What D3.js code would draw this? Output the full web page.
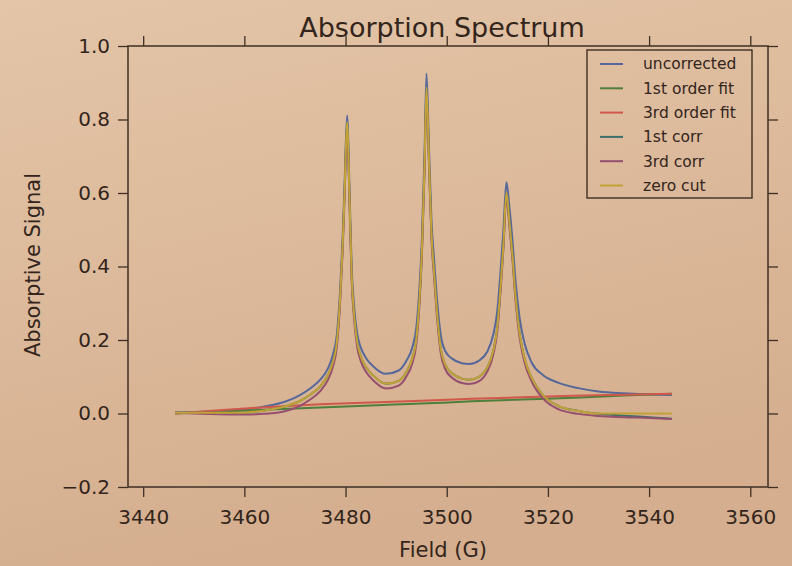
<!DOCTYPE html>
<html>
<head>
<meta charset="utf-8">
<script src="https://cdn.jsdelivr.net/npm/d3@7"></script>
<style>
  html, body { margin: 0; padding: 0; }
  body { width: 792px; height: 566px; overflow: hidden; background: #dcba9b; }
  svg { display: block; }
  text { font-family: "DejaVu Sans", sans-serif; fill: #33251b; }
</style>
</head>
<body>
<svg id="chart" width="792" height="566"></svg>
<script>
// ---------- data ----------
const field = [3446.3, 3450, 3455, 3460, 3464, 3468, 3471, 3473, 3475, 3476.5, 3477.5, 3478.3, 3478.9, 3479.4, 3479.8,
  3480.3, 3480.8, 3481.2, 3481.7, 3482.3, 3483, 3484, 3485.5, 3488, 3490.5, 3492, 3493.2, 3494, 3494.6, 3495.1, 3495.6,
  3496.0, 3496.5, 3497, 3497.5, 3498.1, 3498.8, 3499.7, 3501, 3503, 3504.5, 3506.5, 3508, 3509.2, 3510, 3510.6, 3511.2,
  3511.8, 3512.4, 3513, 3513.6, 3514.4, 3515.4, 3516.8, 3519, 3522, 3526, 3530, 3535, 3540, 3544.5];

const uncorrected = [0.003, 0.004, 0.007, 0.011, 0.019, 0.032, 0.050, 0.068, 0.092, 0.122, 0.160, 0.217, 0.330, 0.470, 0.620,
  0.811, 0.600, 0.400, 0.290, 0.217, 0.180, 0.152, 0.128, 0.108, 0.117, 0.143, 0.180, 0.235, 0.340, 0.480, 0.700,
  0.925, 0.720, 0.520, 0.420, 0.307, 0.215, 0.170, 0.150, 0.137, 0.135, 0.145, 0.168, 0.215, 0.280, 0.380, 0.500,
  0.629, 0.560, 0.470, 0.360, 0.260, 0.190, 0.138, 0.105, 0.084, 0.069, 0.060, 0.055, 0.052, 0.050];

const corr1st = [0.002, 0.002, 0.002, 0.003, 0.008, 0.019, 0.034, 0.051, 0.074, 0.104, 0.140, 0.197, 0.308, 0.448, 0.598,
  0.793, 0.578, 0.378, 0.268, 0.194, 0.156, 0.127, 0.103, 0.081, 0.089, 0.113, 0.150, 0.204, 0.308, 0.447, 0.665,
  0.888, 0.685, 0.484, 0.384, 0.271, 0.178, 0.133, 0.110, 0.095, 0.092, 0.101, 0.125, 0.171, 0.236, 0.336, 0.458,
  0.602, 0.518, 0.428, 0.318, 0.218, 0.148, 0.097, 0.050, 0.021, 0.007, -0.001, -0.006, -0.010, -0.014];

const corr3rd = [0.002, 0.000, -0.002, -0.003, -0.001, 0.006, 0.021, 0.038, 0.061, 0.091, 0.127, 0.184, 0.295, 0.435, 0.585,
  0.780, 0.565, 0.365, 0.255, 0.181, 0.143, 0.114, 0.090, 0.068, 0.076, 0.100, 0.137, 0.191, 0.295, 0.434, 0.652,
  0.875, 0.672, 0.471, 0.371, 0.259, 0.166, 0.121, 0.098, 0.083, 0.080, 0.089, 0.114, 0.160, 0.225, 0.325, 0.447,
  0.591, 0.507, 0.417, 0.307, 0.207, 0.138, 0.087, 0.041, 0.012, -0.001, -0.007, -0.010, -0.012, -0.015];

const zeroCut = [0.002, 0.002, 0.002, 0.003, 0.008, 0.019, 0.034, 0.051, 0.074, 0.104, 0.140, 0.197, 0.308, 0.448, 0.598,
  0.793, 0.578, 0.378, 0.268, 0.194, 0.156, 0.127, 0.103, 0.081, 0.089, 0.113, 0.150, 0.204, 0.308, 0.447, 0.665,
  0.888, 0.685, 0.484, 0.384, 0.271, 0.178, 0.133, 0.110, 0.095, 0.092, 0.101, 0.125, 0.171, 0.236, 0.336, 0.458,
  0.602, 0.518, 0.428, 0.318, 0.218, 0.148, 0.097, 0.050, 0.021, 0.007, 0.000, 0.000, 0.000, 0.000];

const fitField = [3446.3, 3455, 3465, 3475, 3485, 3495, 3505, 3515, 3525, 3535, 3544.5];
const fit1st = [0.000, 0.005, 0.011, 0.016, 0.022, 0.027, 0.033, 0.038, 0.043, 0.049, 0.054];
const fit3rd = [0.000, 0.009, 0.018, 0.025, 0.030, 0.035, 0.040, 0.044, 0.048, 0.051, 0.054];

const xTicks = [3440, 3460, 3480, 3500, 3520, 3540, 3560];
const yTicks = [-0.2, 0.0, 0.2, 0.4, 0.6, 0.8, 1.0];

const seriesNames = ["uncorrected", "1st order fit", "3rd order fit", "1st corr", "3rd corr", "zero cut"];
const seriesColors = ["#56689a", "#4f7f3c", "#d0584a", "#3c6e6c", "#94506e", "#c2a236"];

// ---------- layout ----------
const W = 792, H = 566;
const M = { left: 128, right: 24, top: 46, bottom: 79 };
const pw = W - M.left - M.right, ph = H - M.top - M.bottom;

const svg = d3.select("#chart");

// paper-like background
const defs = svg.append("defs");
const grad = defs.append("linearGradient").attr("id", "paper").attr("x1", 0).attr("y1", 0).attr("x2", 0.3).attr("y2", 1);
grad.append("stop").attr("offset", "0%").attr("stop-color", "#e4c5a8");
grad.append("stop").attr("offset", "100%").attr("stop-color", "#d4ae8e");
svg.append("rect").attr("width", W).attr("height", H).attr("fill", "url(#paper)");

const x = d3.scaleLinear().domain([3437.0, 3563.5]).range([0, pw]);
const y = d3.scaleLinear().domain([-0.2, 1.0]).range([ph, 0]);

const g = svg.append("g").attr("transform", `translate(${M.left},${M.top})`);

const clipId = "plotclip";
defs.append("clipPath").attr("id", clipId).append("rect").attr("width", pw).attr("height", ph);

// ---------- series ----------
const series = [
  { name: seriesNames[0], color: seriesColors[0], xs: field, ys: uncorrected },
  { name: seriesNames[1], color: seriesColors[1], xs: fitField, ys: fit1st },
  { name: seriesNames[2], color: seriesColors[2], xs: fitField, ys: fit3rd },
  { name: seriesNames[3], color: seriesColors[3], xs: field, ys: corr1st },
  { name: seriesNames[4], color: seriesColors[4], xs: field, ys: corr3rd },
  { name: seriesNames[5], color: seriesColors[5], xs: field, ys: zeroCut }
];

const line = d3.line()
  .x(d => x(d[0]))
  .y(d => y(d[1]))
  .curve(d3.curveMonotoneX);

g.append("g").attr("clip-path", `url(#${clipId})`)
  .selectAll("path.series")
  .data(series)
  .join("path")
  .attr("class", "series")
  .attr("fill", "none")
  .attr("stroke", d => d.color)
  .attr("stroke-width", 2)
  .attr("stroke-linejoin", "round")
  .attr("d", d => line(d.xs.map((v, i) => [v, d.ys[i]])));

// ---------- axes ----------
const axisColor = "#3f2f24";
const fmt = d3.format(".1f");

const xb = g.append("g").attr("transform", `translate(0,${ph})`)
  .call(d3.axisBottom(x).tickValues(xTicks).tickSize(10).tickPadding(13).tickFormat(d3.format("d")));
const xt = g.append("g")
  .call(d3.axisTop(x).tickValues(xTicks).tickSize(10).tickFormat(""));
const yl = g.append("g")
  .call(d3.axisLeft(y).tickValues(yTicks).tickSize(10).tickPadding(8).tickFormat(fmt));
const yr = g.append("g").attr("transform", `translate(${pw},0)`)
  .call(d3.axisRight(y).tickValues(yTicks).tickSize(10).tickFormat(""));

[xb, xt, yl, yr].forEach(a => {
  a.select(".domain").remove();
  a.selectAll(".tick line").attr("stroke", axisColor).attr("stroke-width", 1.3);
  a.selectAll(".tick text").attr("font-size", 20).attr("font-family", "DejaVu Sans, sans-serif").attr("fill", "#33251b");
});

// axes box
g.append("rect").attr("width", pw).attr("height", ph)
  .attr("fill", "none").attr("stroke", axisColor).attr("stroke-width", 1.5);

// ---------- labels ----------
svg.append("text").attr("x", 442).attr("y", 37).attr("text-anchor", "middle")
  .attr("font-size", 27).text("Absorption Spectrum");
svg.append("text").attr("x", 443).attr("y", 557).attr("text-anchor", "middle")
  .attr("font-size", 21).text("Field (G)");
svg.append("text").attr("transform", "translate(40,265) rotate(-90)").attr("text-anchor", "middle")
  .attr("font-size", 21).text("Absorptive Signal");

// ---------- legend ----------
const lg = svg.append("g").attr("transform", "translate(587,50)");
lg.append("rect").attr("width", 165).attr("height", 148)
  .attr("fill", "none").attr("stroke", axisColor).attr("stroke-width", 1.4);
const items = lg.selectAll("g.item").data(series).join("g")
  .attr("class", "item")
  .attr("transform", (d, i) => `translate(0,${14 + i * 24.3})`);
items.append("line").attr("x1", 13).attr("x2", 36).attr("y1", 0).attr("y2", 0)
  .attr("stroke", d => d.color).attr("stroke-width", 2);
items.append("text").attr("x", 56).attr("y", 0).attr("dy", "0.35em")
  .attr("font-size", 15.5).text(d => d.name);
</script>
</body>
</html>
